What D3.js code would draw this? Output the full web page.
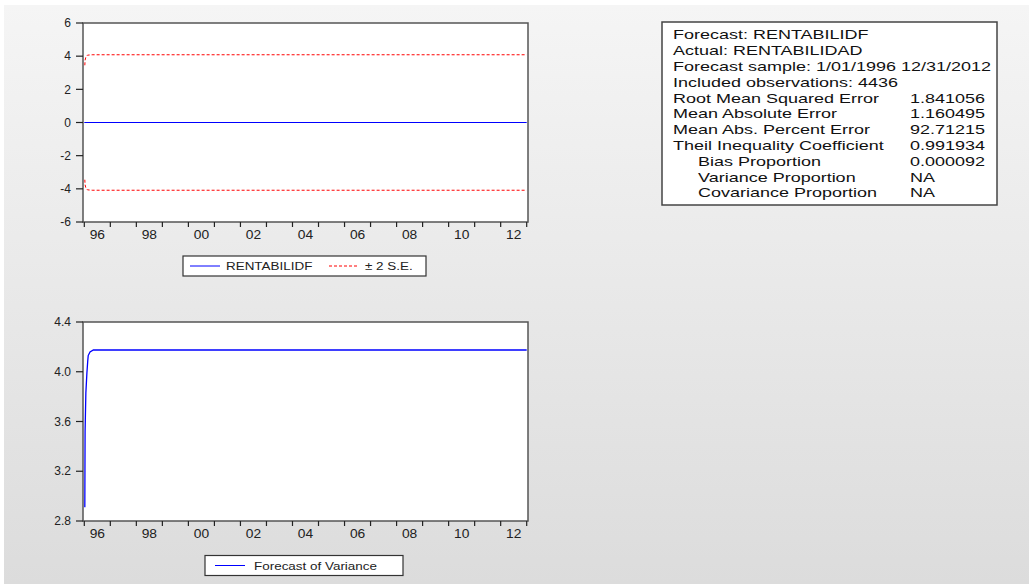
<!DOCTYPE html>
<html>
<head>
<meta charset="utf-8">
<script src="https://cdn.jsdelivr.net/npm/d3@7"></script>
<style>
  body{margin:0;background:#fff;}
  svg{display:block;font-family:"Liberation Sans",Arial,sans-serif;}
</style>
</head>
<body>
<svg id="chart" width="1029" height="584"></svg>
<script>
var forecastTime = [1996.0, 2013.0];
var forecastValues = [0, 0];

var seTime = [1996.02, 1996.03, 1996.06, 1996.12, 1996.3, 2013.0];
var seUpper = [3.45, 3.75, 3.95, 4.06, 4.085, 4.085];
var seLower = [-3.45, -3.75, -3.95, -4.06, -4.085, -4.085];

var varTime = [1996.02, 1996.03, 1996.06, 1996.10, 1996.13, 1996.15, 1996.22, 1996.35, 2013.0];
var varValues = [2.91, 3.52, 3.83, 3.99, 4.08, 4.13, 4.16, 4.175, 4.175];

var yearTicks = d3.range(1996, 2014);
var yearLabels = ["96","98","00","02","04","06","08","10","12"];
var topTicks = [-6,-4,-2,0,2,4,6];
var bottomTicks = [2.8,3.2,3.6,4.0,4.4];

var statLabels = ["Forecast: RENTABILIDF","Actual: RENTABILIDAD","Forecast sample: 1/01/1996 12/31/2012",
  "Included observations: 4436","Root Mean Squared Error","Mean Absolute Error","Mean Abs. Percent Error",
  "Theil Inequality Coefficient","Bias Proportion","Variance Proportion","Covariance Proportion"];
var statValues = ["","","","","1.841056","1.160495","92.71215","0.991934","0.000092","NA","NA"];
var statIndent = [0,0,0,0,0,0,0,0,1,1,1];

var svg = d3.select('#chart');

//background gradient
var grad = svg.append('defs').append('linearGradient').attr('id','bg')
              .attr('x1',0).attr('y1',0).attr('x2',0).attr('y2',1);
grad.append('stop').attr('offset','0%').attr('stop-color','#f5f5f5');
grad.append('stop').attr('offset','100%').attr('stop-color','#dcdcdc');
svg.append('rect').attr('x',4).attr('y',5).attr('width',1025).attr('height',579).style('fill','url(#bg)');

var x = d3.scaleLinear().domain([1996,2013]).range([84.3,526.7]);

//draws frame, ticks and labels of one panel
function panel(top, bottom, y, ticks, fmt){
    var g = svg.append('g');
    g.append('rect').attr('x',83).attr('y',top).attr('width',445).attr('height',bottom-top)
     .style('fill','#fff').style('stroke','#555').style('stroke-width',1.5);

    g.selectAll('.yt').data(ticks).enter().append('line')
     .attr('x1',76).attr('x2',83).attr('y1',y).attr('y2',y)
     .style('stroke','#222').style('stroke-width',1.2);
    g.selectAll('.yl').data(ticks).enter().append('text')
     .attr('x',71).attr('y',d=>y(d)).attr('dy','0.35em')
     .style('text-anchor','end').style('font-size','12px').style('fill','#222')
     .text(fmt);

    g.selectAll('.xt').data(yearTicks).enter().append('line')
     .attr('x1',x).attr('x2',x).attr('y1',bottom).attr('y2',bottom+5)
     .style('stroke','#222').style('stroke-width',1.2);
    g.selectAll('.xl').data(yearLabels).enter().append('text')
     .attr('transform',(d,i)=>'translate('+x(1996.5+2*i)+','+(bottom+13)+') scale(1.15,1)')
     .attr('dy','0.35em')
     .style('text-anchor','middle').style('font-size','12px').style('fill','#222')
     .text(d=>d);
    return g;
}

//top panel: forecast with +-2 S.E.
var yTop = d3.scaleLinear().domain([-6,6]).range([222,23]);
var p1 = panel(23, 222, yTop, topTicks, d=>d);
var line1 = d3.line().x(d=>x(d[0])).y(d=>yTop(d[1]));
p1.append('path').datum(d3.zip(seTime, seUpper)).attr('d',line1)
  .style('fill','none').style('stroke','#ff0000').style('stroke-width',1).style('stroke-dasharray','3,2');
p1.append('path').datum(d3.zip(seTime, seLower)).attr('d',line1)
  .style('fill','none').style('stroke','#ff0000').style('stroke-width',1).style('stroke-dasharray','3,2');
p1.append('path').datum(d3.zip(forecastTime, forecastValues)).attr('d',line1)
  .style('fill','none').style('stroke','#0000ff').style('stroke-width',1);

//bottom panel: variance forecast
var yBot = d3.scaleLinear().domain([2.8,4.4]).range([521,322]);
var p2 = panel(322, 521, yBot, bottomTicks, d3.format('.1f'));
var line2 = d3.line().x(d=>x(d[0])).y(d=>yBot(d[1]));
p2.append('path').datum(d3.zip(varTime, varValues)).attr('d',line2)
  .style('fill','none').style('stroke','#0000ff').style('stroke-width',1.3);

//legends
function legend(x0, y0, w, items){
    var g = svg.append('g').attr('transform','translate('+x0+','+y0+')');
    g.append('rect').attr('width',w).attr('height',20)
     .style('fill','#fff').style('stroke','#333').style('stroke-width',1.2);
    items.forEach(function(it){
        g.append('line').attr('x1',it.lx).attr('x2',it.lx+30).attr('y1',10).attr('y2',10)
         .style('stroke',it.color).style('stroke-width',1).style('stroke-dasharray',it.dash||null);
        g.append('text').attr('transform','translate('+it.tx+',10) scale(1.17,1)').attr('dy','0.35em')
         .style('font-size','11.5px').style('fill','#222').text(it.label);
    });
}
legend(183, 256, 243, [
    {lx:7, color:'#0000ff', tx:43, label:'RENTABILIDF'},
    {lx:146, color:'#ff0000', dash:'3,2', tx:182, label:'\u00b1 2 S.E.'}
]);
legend(205, 555.5, 198, [
    {lx:10, color:'#0000ff', tx:49, label:'Forecast of Variance'}
]);

//statistics box
var sx = 1.44;
svg.append('rect').attr('x',662).attr('y',22).attr('width',335).attr('height',183)
   .style('fill','#fff').style('stroke','#444').style('stroke-width',1.5);
var st = svg.append('g').attr('transform','translate(673,0) scale('+sx+',1)');
st.selectAll('.sl').data(statLabels).enter().append('text')
  .attr('x',(d,i)=>statIndent[i]?25/sx:0).attr('y',(d,i)=>35+i*15.8).attr('dy','0.35em')
  .style('font-size','12.5px').style('fill','#111').text(d=>d);
st.selectAll('.sv').data(statValues).enter().append('text')
  .attr('x',237/sx).attr('y',(d,i)=>35+i*15.8).attr('dy','0.35em')
  .style('font-size','12.5px').style('fill','#111').text(d=>d);
</script>
</body>
</html>
